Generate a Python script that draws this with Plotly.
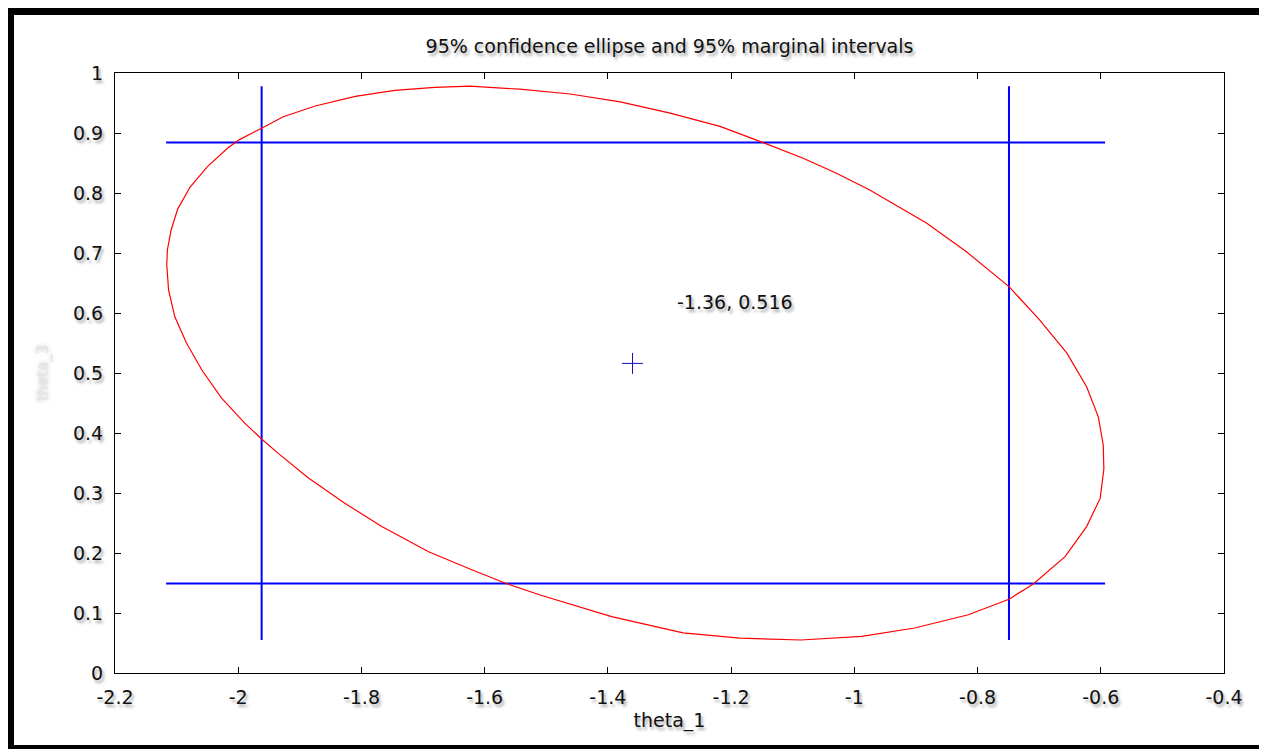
import plotly.graph_objects as go

# ---- data ----
center_x = -1.36
center_y = 0.516
center_label = "-1.36, 0.516"

# ellipse outline (starting at its top, clockwise)
ellipse_x = [-1.624, -1.543, -1.461, -1.380, -1.299, -1.218,
             -1.148, -1.083, -1.029, -0.975, -0.883, -0.818, -0.749, -0.699, -0.655, -0.623,
             -0.604, -0.596, -0.595, -0.601, -0.623, -0.658, -0.710, -0.749, -0.815, -0.902,
             -0.988, -1.087, -1.186, -1.278, -1.394, -1.510, -1.567, -1.621, -1.691, -1.767,
             -1.827, -1.886, -1.935, -1.962, -1.989, -2.027, -2.059, -2.084, -2.103, -2.113,
             -2.116, -2.115, -2.109, -2.098, -2.078, -2.050, -2.017, -1.998, -1.962, -1.927,
             -1.875, -1.810, -1.746, -1.681, -1.624]
ellipse_y = [0.978, 0.973, 0.965, 0.952, 0.933, 0.911,
             0.884, 0.858, 0.833, 0.805, 0.750, 0.702, 0.644, 0.588, 0.533, 0.477,
             0.427, 0.380, 0.340, 0.291, 0.244, 0.194, 0.148, 0.123, 0.097, 0.075,
             0.061, 0.055, 0.058, 0.067, 0.094, 0.130, 0.150, 0.172, 0.202, 0.244,
             0.283, 0.325, 0.366, 0.390, 0.416, 0.458, 0.505, 0.550, 0.594, 0.638,
             0.680, 0.705, 0.738, 0.774, 0.810, 0.844, 0.875, 0.889, 0.908, 0.927,
             0.945, 0.961, 0.971, 0.976, 0.978]

# marginal intervals (95%)
theta1_interval = [-1.962, -0.749]
theta3_interval = [0.149, 0.884]
# extents of the drawn interval lines
hline_x_extent = [-2.117, -0.593]
vline_y_extent = [0.055, 0.978]

x_ticks = [-2.2, -2.0, -1.8, -1.6, -1.4, -1.2, -1.0, -0.8, -0.6, -0.4]
x_tick_text = ["-2.2", "-2", "-1.8", "-1.6", "-1.4", "-1.2", "-1", "-0.8", "-0.6", "-0.4"]
y_ticks = [0, 0.1, 0.2, 0.3, 0.4, 0.5, 0.6, 0.7, 0.8, 0.9, 1.0]
y_tick_text = ["0", "0.1", "0.2", "0.3", "0.4", "0.5", "0.6", "0.7", "0.8", "0.9", "1"]

FONT = "DejaVu Sans"
FS = 19
SHADOW = "2px 3px 3px rgba(0,0,0,0.35)"

fig = go.Figure()

# horizontal marginal interval lines
for yv in theta3_interval:
    fig.add_trace(go.Scatter(x=hline_x_extent, y=[yv, yv], mode="lines",
                             line=dict(color="#0000ff", width=2), hoverinfo="skip",
                             showlegend=False))
# vertical marginal interval lines
for xv in theta1_interval:
    fig.add_trace(go.Scatter(x=[xv, xv], y=vline_y_extent, mode="lines",
                             line=dict(color="#0000ff", width=2), hoverinfo="skip",
                             showlegend=False))

# confidence ellipse
fig.add_trace(go.Scatter(x=ellipse_x, y=ellipse_y, mode="lines",
                         line=dict(color="#ff0000", width=1.2),
                         showlegend=False))

# center marker
fig.add_trace(go.Scatter(x=[center_x], y=[center_y], mode="markers",
                         marker=dict(symbol="cross-thin", size=15,
                                     line=dict(color="#1010b0", width=1)),
                         showlegend=False))

fig.add_annotation(x=-1.291, y=0.618, text=center_label, showarrow=False,
                   xanchor="left", yanchor="middle",
                   font=dict(family=FONT, size=FS, color="#111", shadow=SHADOW))

# figure geometry (the page body adds an 8px offset)
W, H = 1259, 741
L, T = 107, 65
pw, ph = 1109, 600
R, B = W - L - pw, H - T - ph


def px(xp):
    return (xp - L) / pw


def py(yp):
    return (T + ph - yp) / ph


# black frame around the page
frame = [(0, 0, W, 7), (0, 0, 6, H), (W - 5, 0, W, H), (0, H - 4, W, H)]
for x0, y0, x1, y1 in frame:
    fig.add_shape(type="rect", xref="paper", yref="paper",
                  x0=px(x0), x1=px(x1), y0=py(y0), y1=py(y1),
                  fillcolor="black", line=dict(width=0), layer="below")

axis_common = dict(showline=True, linecolor="black", linewidth=1, mirror="ticks",
                   ticks="inside", ticklen=6, tickcolor="black", showgrid=False,
                   zeroline=False,
                   tickfont=dict(family=FONT, size=FS, color="#111", shadow=SHADOW))

fig.update_layout(
    width=W, height=H,
    margin=dict(l=L, r=R, t=T, b=B),
    paper_bgcolor="white", plot_bgcolor="white",
    title=dict(text="95% confidence ellipse and 95% marginal intervals",
               x=(L + pw / 2) / W, xanchor="center", y=1 - 38 / H, yanchor="middle",
               font=dict(family=FONT, size=FS, color="#111", shadow=SHADOW)),
    xaxis=dict(range=[-2.2, -0.4], tickvals=x_ticks, ticktext=x_tick_text,
               ticklabelstandoff=7,
               title=dict(text="theta_1", standoff=6,
                          font=dict(family=FONT, size=FS, color="#111", shadow=SHADOW)),
               **axis_common),
    yaxis=dict(range=[0, 1], tickvals=y_ticks, ticktext=y_tick_text,
               ticklabelstandoff=7,
               title=dict(text="theta_3", standoff=20,
                          font=dict(family=FONT, size=15, color="#e4e4e4",
                                    shadow="0px 0px 4px rgba(0,0,0,0.25)")),
               **axis_common),
)

fig.write_html("out.html")
